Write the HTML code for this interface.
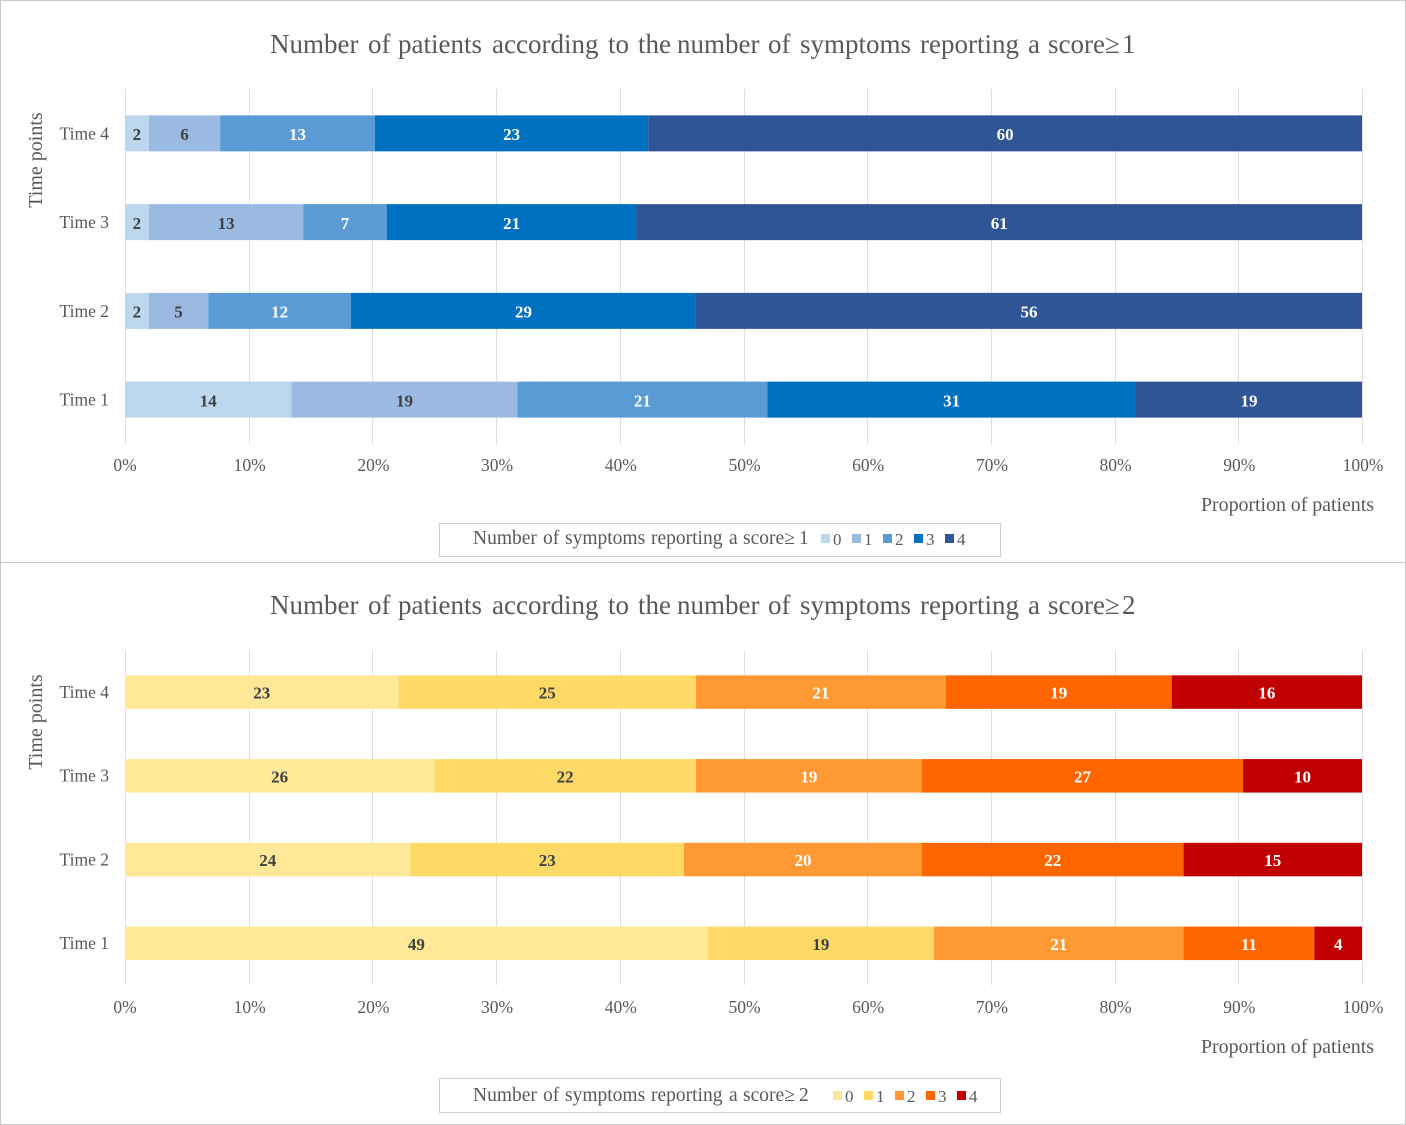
<!DOCTYPE html>
<html lang="en">
<head>
<meta charset="utf-8">
<title>Number of patients according to the number of symptoms</title>
<style>
html,body{margin:0;padding:0;background:#fff;width:1406px;height:1125px;overflow:hidden}
svg{display:block;font-family:"Liberation Serif",serif}
</style>
</head>
<body>
<svg id="chart" xmlns="http://www.w3.org/2000/svg" width="1406" height="1125" viewBox="0 0 1406 1125"></svg>
<script>
const categories = ["Time 1", "Time 2", "Time 3", "Time 4"];
const seriesNames = ["0", "1", "2", "3", "4"];
const tickLabels = ["0%", "10%", "20%", "30%", "40%", "50%", "60%", "70%", "80%", "90%", "100%"];
const tickValues = [0, 10, 20, 30, 40, 50, 60, 70, 80, 90, 100];

const score1Series0 = [14, 2, 2, 2];
const score1Series1 = [19, 5, 13, 6];
const score1Series2 = [21, 12, 7, 13];
const score1Series3 = [31, 29, 21, 23];
const score1Series4 = [19, 56, 61, 60];

const score2Series0 = [49, 24, 26, 23];
const score2Series1 = [19, 23, 22, 25];
const score2Series2 = [21, 20, 19, 21];
const score2Series3 = [11, 22, 27, 19];
const score2Series4 = [4, 15, 10, 16];

const score1Colors = ["#bdd7ee", "#9abae2", "#5b9bd5", "#0070c0", "#2f5597"];
const score2Colors = ["#ffe998", "#ffd966", "#ff9933", "#ff6600", "#c00000"];

const titleWords = ["Number ", "of ", "patients ", "according ", "to ", "the ", "number ", "of ", "symptoms ", "reporting ", "a ", "score\u2265"];
const titleWordX = [270, 368, 398, 492, 608, 638, 677, 768, 800, 920, 1028, 1048];
const legendWords = ["Number ", "of ", "symptoms ", "reporting ", "a ", "score\u2265"];
const legendWordX = [473, 543, 565, 651, 729, 743];

const NS = "http://www.w3.org/2000/svg";
const svg = document.getElementById("chart");

function make(tag, attrs, parent, text) {
  const el = document.createElementNS(NS, tag);
  for (const k in attrs) el.setAttribute(k, attrs[k]);
  if (text !== undefined) el.textContent = text;
  parent.appendChild(el);
  return el;
}

function placeWords(textEl, words, xs, digit, digitX) {
  words.forEach((w, i) => {
    make("tspan", {x: xs[i]}, textEl, w);
  });
  make("tspan", {x: digitX}, textEl, digit);
}

function drawPanel(cfg) {
  const g = make("g", {}, svg);
  
  

  const x = v => cfg.left + (cfg.right - cfg.left) * v / 100;
  const band = (cfg.plotBottom - cfg.plotTop) / categories.length;
  const y = i => cfg.plotBottom - band * (i + 0.5);

  const frame = make("rect", {x: 0.5, y: cfg.top + 0.5, width: 1405, height: cfg.height - 1, fill: "#fff", stroke: "#c8c8c8", "stroke-width": 1}, g);
  
  

  const title = make("text", {y: cfg.titleY, "font-size": 27, fill: "#595959"}, g);
  
  
  placeWords(title, titleWords, titleWordX, cfg.digit, 1122);

  tickValues.forEach((v, i) => {
    const gx = Math.floor(x(v) + 0.5) + 0.5;
    const line = make("line", {x1: gx, x2: gx, y1: cfg.plotTop, y2: cfg.plotBottom, stroke: "#dedede", "stroke-width": 1}, g);
    
    
    const lab = make("text", {x: x(v) + (v > 0 ? 1 : 0), y: cfg.tickY, "text-anchor": "middle", "font-size": 17.5, fill: "#595959"}, g, tickLabels[i]);
    
    
  });

  categories.forEach((c, i) => {
    const lab = make("text", {x: 109, y: y(i) + 6, "text-anchor": "end", "font-size": 17.5, fill: "#595959"}, g, c);
    
    

    const total = cfg.series.reduce((s, a) => s + a[i], 0);
    let cum = 0;
    cfg.series.forEach((arr, s) => {
      const v0 = cum / total * 100;
      cum += arr[i];
      const v1 = cum / total * 100;
      const seg = make("rect", {x: x(v0), y: y(i) - cfg.barH / 2 + cfg.barShift, width: x(v1) - x(v0), height: cfg.barH, fill: cfg.colors[s]}, g);
      
      
      const val = make("text", {x: (x(v0) + x(v1)) / 2, y: y(i) + 6.8, "text-anchor": "middle", "font-size": 17, "font-weight": "bold", fill: s < 2 ? "#404040" : "#ffffff"}, g, arr[i]);
      
      
    });
  });

  const yt = make("text", {transform: "translate(42," + cfg.yTitleY + ") rotate(-90)", "text-anchor": "middle", "font-size": 20, fill: "#595959"}, g, "Time points");
  
  

  const xt = make("text", {x: 1201, y: cfg.xTitleY, "font-size": 20, fill: "#595959", textLength: 173, lengthAdjust: "spacing"}, g, "Proportion of patients");
  
  

  const lg = make("g", {}, g);
  
  
  const box = make("rect", {x: 439.5, y: cfg.legendTop + 0.5, width: 561, height: cfg.legendH, fill: "#fff", stroke: "#d0d0d0", "stroke-width": 1}, lg);
  
  
  const lt = make("text", {y: cfg.legendTextY, "font-size": 19.5, fill: "#595959"}, lg);
  
  
  placeWords(lt, legendWords, legendWordX, cfg.digit, 799);
  seriesNames.forEach((n, i) => {
    const sx = cfg.legendStart + i * 31;
    const sw = make("rect", {x: sx, y: cfg.legendTextY - 10, width: 9, height: 9, fill: cfg.colors[i]}, lg);
    
    
    const st = make("text", {x: sx + 12, y: cfg.legendTextY + 1, "font-size": 17, fill: "#595959"}, lg, n);
    
    
  });
}

drawPanel({
  name: "score-1-chart", top: 0, height: 563, left: 125, right: 1362,
  plotTop: 89, plotBottom: 444, barH: 36, barShift: 0, tickY: 471, titleY: 53, digit: "1",
  yTitleY: 160, xTitleY: 511, legendTop: 523, legendH: 33, legendTextY: 544, legendStart: 821,
  series: [score1Series0, score1Series1, score1Series2, score1Series3, score1Series4],
  colors: score1Colors
});

drawPanel({
  name: "score-2-chart", top: 562, height: 563, left: 125, right: 1362,
  plotTop: 650, plotBottom: 985, barH: 33.5, barShift: 0.2, tickY: 1013, titleY: 614, digit: "2",
  yTitleY: 722, xTitleY: 1053, legendTop: 1078, legendH: 34, legendTextY: 1101, legendStart: 833,
  series: [score2Series0, score2Series1, score2Series2, score2Series3, score2Series4],
  colors: score2Colors
});
</script>
</body>
</html>
